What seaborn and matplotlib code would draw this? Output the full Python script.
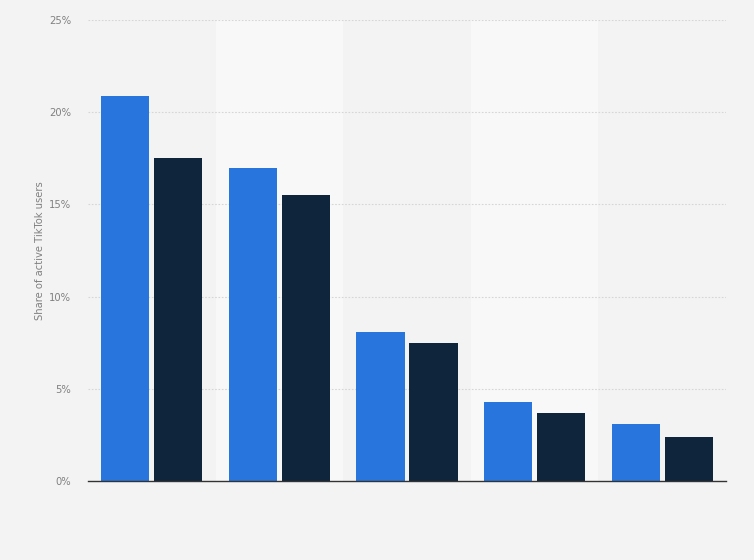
import numpy as np
import pandas as pd
import matplotlib
matplotlib.use("Agg")
import matplotlib.pyplot as plt
import seaborn as sns

# ── Data ─────────────────────────────────────────────────────
groups = ["G1", "G2", "G3", "G4", "G5"]
series_a = [20.9, 17.0, 8.1, 4.3, 3.1]
series_b = [17.5, 15.5, 7.5, 3.7, 2.4]
series_names = ["A", "B"]
y_ticks = [0, 5, 10, 15, 20, 25]

df = pd.DataFrame({
    "group": groups * 2,
    "series": [series_names[0]] * len(groups) + [series_names[1]] * len(groups),
    "share": series_a + series_b,
})

bg = "#f3f3f3"
band = "#f8f8f8"
colors = ["#2876dd", "#0f253c"]

sns.set_style("white")
plt.rcParams["font.family"] = ["DejaVu Sans"]

fig = plt.figure(figsize=(7.54, 5.6), dpi=100, facecolor=bg)
ax = fig.add_axes([88 / 754, 1 - 481 / 560, (726 - 88) / 754, (481 - 20) / 560])
ax.set_facecolor(bg)

# alternating lighter bands behind every other category
for i in range(len(groups)):
    if i % 2 == 1:
        ax.axvspan(i - 0.5, i + 0.5, color=band, zorder=0, lw=0)

sns.barplot(data=df, x="group", y="share", hue="series", palette=colors,
            width=0.83, gap=0.09, saturation=1, legend=False, linewidth=0,
            ax=ax, zorder=3)

ax.set_xlim(-0.5, len(groups) - 0.5)
ax.set_ylim(0, 25)
ax.set_yticks(y_ticks)
ax.set_yticklabels([f"{t}%" for t in y_ticks], color="#808080", fontsize=7.2)
ax.set_xticks([])
ax.set_xlabel("")
ax.set_ylabel("Share of active TikTok users", color="#808080", fontsize=7.2, labelpad=3)
ax.tick_params(axis="y", length=0, pad=12)

for t in y_ticks[1:]:
    ax.axhline(t, color="#d6d6d6", lw=0.8, ls=(0, (1.5, 1.5)), zorder=1)

for s in ["top", "right", "left"]:
    ax.spines[s].set_visible(False)
ax.spines["bottom"].set_color("#333333")
ax.spines["bottom"].set_linewidth(1.0)
ax.spines["bottom"].set_zorder(4)

fig.savefig("out.png", dpi=100, facecolor=bg)
